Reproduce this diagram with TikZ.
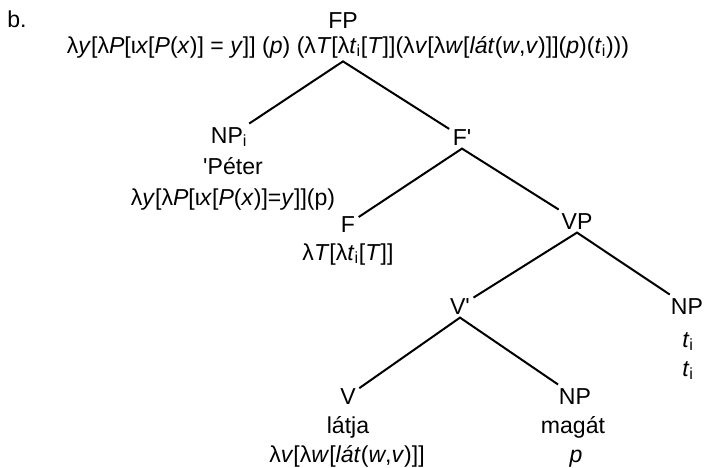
\documentclass[tikz,border=0pt]{standalone}
\usepackage{fontspec}
\setmainfont{Liberation Sans}
\newcommand{\subi}{\textsubscript{i}}

\begin{document}
\begin{tikzpicture}[x=0.75pt,y=-0.75pt,
  every node/.style={anchor=base,inner sep=2.5pt,font=\fontsize{17.3}{20}\selectfont}]
  \useasboundingbox (0,0) rectangle (704,468);
  \node (lbl) at (17,27) {b.};
  \node (fp) at (343,28) {FP};
  \node (fpsem) at (348,53) {λ\textit{y}[λ\textit{P}[ι\textit{x}[\textit{P}(\textit{x})] = \textit{y}]] (\textit{p}) (λ\textit{T}[λ\textit{t}\subi[\textit{T}]](λ\textit{v}[λ\textit{w}[\textit{lát}(\textit{w},\textit{v})]](\textit{p})(\textit{t}\subi)))};
  \node (npi) at (229,143) {NP\subi};
  \node (npiwd) at (233,174) {\textquotesingle Péter};
  \node (npisem) at (233,205) {λ\textit{y}[λ\textit{P}[ι\textit{x}[\textit{P}(\textit{x})]=\textit{y}]](p)};
  \node (fbar) at (462,145) {F\textquotesingle};
  \node (f) at (348,232) {F};
  \node (fsem) at (348,260) {λ\textit{T}[λ\textit{t}\subi[\textit{T}]]};
  \node (vp) at (577,229) {VP};
  \node (vbar) at (460,314) {V\textquotesingle};
  \node (npt) at (687,314) {NP};
  \node (nptwd) at (688,347) {\textit{t}\subi};
  \node (nptsem) at (688,376) {\textit{t}\subi};
  \node (v) at (348,404) {V};
  \node (vwd) at (348,433) {látja};
  \node (vsem) at (347,462) {λ\textit{v}[λ\textit{w}[\textit{lát}(\textit{w},\textit{v})]]};
  \node (np) at (575,404) {NP};
  \node (npwd) at (573,433) {magát};
  \node (npsem) at (576,462) {\textit{p}};
  \draw[line width=1.5pt] (npi) -- (fp |- fpsem.south) -- (fbar)
        (f) -- (fbar.south) -- (vp)
        (vbar) -- (vp.south) -- (npt)
        (v) -- (vbar.south) -- (np);
\end{tikzpicture}
\end{document}
